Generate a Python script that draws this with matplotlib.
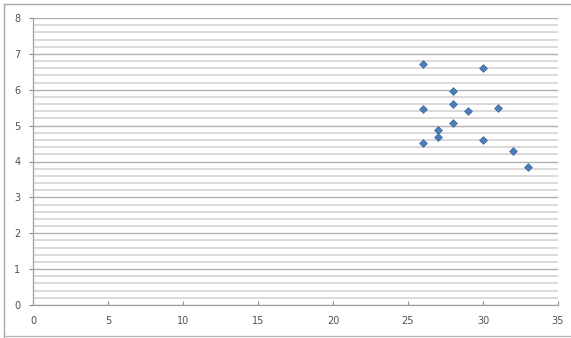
import matplotlib
matplotlib.use("Agg")
import matplotlib.pyplot as plt
import numpy as np
from matplotlib.lines import Line2D

x_vals = [26, 30, 28, 28, 26, 29, 31, 28, 27, 27, 26, 30, 32, 33]
y_vals = [6.73, 6.60, 5.97, 5.59, 5.45, 5.42, 5.50, 5.06, 4.89, 4.69, 4.52, 4.59, 4.28, 3.85]
x_ticks = [0, 5, 10, 15, 20, 25, 30, 35]
y_ticks = [0, 1, 2, 3, 4, 5, 6, 7, 8]

W, H = 571, 338
fig = plt.figure(figsize=(W / 100, H / 100), dpi=100)
fig.patch.set_facecolor("white")

ax = fig.add_axes([33 / W, 1 - 305 / H, (558 - 33) / W, (305 - 18) / H])
ax.set_xlim(0, 35)
ax.set_ylim(0, 8)

# gridlines every 0.2, darker at integers
for yv in np.arange(0, 8.01, 0.2):
    is_major = abs(yv - round(yv)) < 1e-6
    ax.axhline(yv, color="#b0b0b0" if is_major else "#d9d9d9",
               lw=1.0 if is_major else 1.4, zorder=1)

ax.scatter(x_vals, y_vals, marker="D", s=16, color="#4a7ebb",
           edgecolors="#3c6aa3", linewidths=0.5, zorder=3)

ax.set_xticks(x_ticks)
ax.set_yticks(y_ticks)
ax.set_xticklabels([str(t) for t in x_ticks])
ax.set_yticklabels([str(t) for t in y_ticks])
ax.tick_params(axis="both", labelsize=7, colors="#909090", labelcolor="#505050",
               length=3, width=0.8)
ax.tick_params(axis="x", direction="in", pad=8)
ax.tick_params(axis="y", direction="out", pad=6)

for s in ["top", "right"]:
    ax.spines[s].set_visible(False)
for s in ["left", "bottom"]:
    ax.spines[s].set_color("#a0a0a0")
    ax.spines[s].set_linewidth(0.9)

# outer chart border
fig.add_artist(Line2D([4 / W, 4 / W], [0, 1 - 4 / H], transform=fig.transFigure, color="#a8a8a8", lw=1))
fig.add_artist(Line2D([4 / W, 1], [1 - 4 / H, 1 - 4 / H], transform=fig.transFigure, color="#a8a8a8", lw=1))
fig.add_artist(Line2D([4 / W, 1], [1 - 336 / H, 1 - 336 / H], transform=fig.transFigure, color="#b8b8b8", lw=1))

fig.savefig("out.png", dpi=100)
